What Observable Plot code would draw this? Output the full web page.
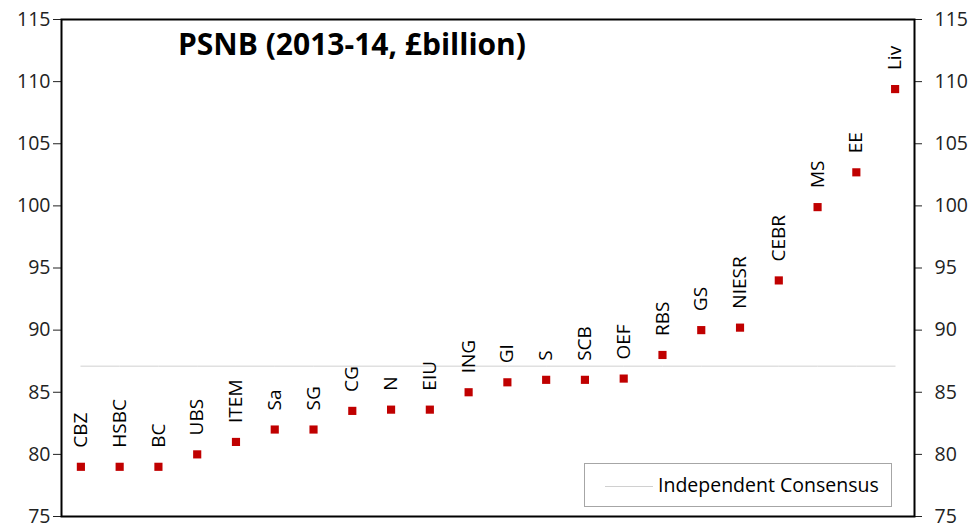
<!DOCTYPE html>
<html>
<head>
<meta charset="utf-8">
<script src="https://cdn.jsdelivr.net/npm/d3@7"></script>
<script src="https://cdn.jsdelivr.net/npm/@observablehq/plot@0.6"></script>
<style>
  body { margin: 0; background: #fff; }
  #wrap { position: relative; width: 973px; height: 527px; font-family: "Open Sans", "Noto Sans", sans-serif; }
  #title { position: absolute; left: 178px; top: 23px; font-size: 30px; line-height: normal; font-weight: bold; color: #000; white-space: nowrap; }
  #legend { position: absolute; left: 584px; top: 463px; width: 308px; height: 44px; border: 1px solid #a6a6a6; box-sizing: border-box; background: #fff; }
  #legend .ln { position: absolute; left: 20px; top: 22px; width: 48px; border-top: 1px solid #d0d0d0; }
  #legend .tx { position: absolute; left: 73px; top: 7px; font-size: 19.5px; line-height: normal; color: #000; white-space: nowrap; }
</style>
</head>
<body>
<div id="wrap">
  <div id="chart"></div>
  <div id="title">PSNB (2013-14, £billion)</div>
  <div id="legend"><div class="ln"></div><div class="tx">Independent Consensus</div></div>
</div>
<script>
const forecasters = ["CBZ","HSBC","BC","UBS","ITEM","Sa","SG","CG","N","EIU","ING","GI","S","SCB","OEF","RBS","GS","NIESR","CEBR","MS","EE","Liv"];
const psnb = [79.0,79.0,79.0,80.0,81.0,82.0,82.0,83.5,83.6,83.6,85.0,85.8,86.0,86.0,86.1,88.0,90.0,90.2,94.0,99.9,102.7,109.4];
const consensus = 87.1;
const yTicks = [75,80,85,90,95,100,105,110,115];

const data = forecasters.map((name, i) => ({name, value: psnb[i]}));
const font = "'Open Sans', 'Noto Sans', sans-serif";

const chart = Plot.plot({
  width: 973,
  height: 527,
  marginLeft: 61,
  marginRight: 59,
  marginTop: 19,
  marginBottom: 11,
  style: {fontFamily: font, background: "#fff", color: "#222"},
  x: {type: "band", domain: forecasters, padding: 0, round: false, axis: null},
  y: {domain: [75, 115], axis: null},
  marks: [
    Plot.line(forecasters, {x: d => d, y: () => consensus, stroke: "#d0d0d0", strokeWidth: 1}),
    Plot.axisY({anchor: "left", ticks: yTicks, tickSize: 8, tickPadding: 3, fontSize: 19.5, stroke: "#222", label: null}),
    Plot.axisY({anchor: "right", ticks: yTicks, tickSize: 7, tickPadding: 13, fontSize: 19.5, stroke: "#222", textAnchor: "start", label: null}),
    Plot.frame({stroke: "#000", strokeWidth: 2}),
    Plot.dot(data, {x: "name", y: "value", symbol: "square", r: 4.6, fill: "#c00000", stroke: "none"}),
    Plot.text(data, {x: "name", y: "value", text: "name", rotate: -90, textAnchor: "start", lineAnchor: "middle", dy: -19, fontSize: 19, fill: "#000"})
  ]
});
document.getElementById("chart").appendChild(chart);
</script>
</body>
</html>
